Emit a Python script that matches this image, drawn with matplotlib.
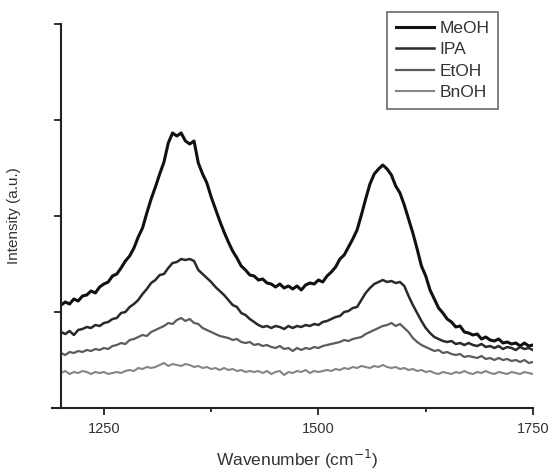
import numpy as np
import matplotlib
matplotlib.use("Agg")
import matplotlib.pyplot as plt
from matplotlib.ticker import MultipleLocator

plt.rcParams['font.family'] = ['Liberation Sans', 'DejaVu Sans']

# wavenumber grid, 1200..1750 cm-1 every 5
wavenumber = np.arange(1200, 1751, 5)

# intensities (a.u.)
meoh = [103, 106, 104, 109, 107, 112, 113, 117, 115, 121,
        124, 126, 132, 134, 140, 147, 152, 160, 171, 180,
        195, 209, 221, 234, 246, 265, 275, 272, 275, 267,
        264, 267, 245, 234, 225, 211, 199, 187, 176, 166,
        157, 150, 142, 138, 133, 132, 128, 129, 125, 124,
        121, 124, 120, 122, 119, 122, 118, 123, 125, 124,
        128, 126, 132, 136, 141, 149, 153, 161, 169, 178,
        193, 209, 224, 234, 239, 243, 239, 233, 222, 215,
        203, 189, 175, 159, 142, 132, 118, 109, 100, 95,
        89, 86, 81, 82, 76, 75, 73, 74, 69, 71,
        68, 67, 69, 65, 66, 64, 65, 62, 65, 62,
        63]
ipa = [76, 74, 77, 73, 78, 79, 81, 80, 83, 82,
       85, 86, 89, 90, 95, 96, 101, 104, 108, 114,
       119, 125, 128, 133, 134, 140, 145, 146, 149, 148,
       149, 147, 138, 134, 130, 126, 121, 117, 113, 108,
       103, 101, 95, 93, 89, 86, 83, 81, 82, 80,
       82, 81, 79, 82, 80, 82, 81, 83, 82, 84,
       83, 86, 87, 89, 91, 92, 96, 97, 100, 101,
       108, 115, 120, 124, 126, 128, 126, 127, 125, 126,
       122, 112, 103, 95, 87, 80, 75, 71, 69, 67,
       66, 67, 64, 65, 63, 65, 63, 62, 64, 61,
       62, 60, 62, 59, 61, 60, 58, 61, 59, 60,
       58]
etoh = [55, 53, 56, 55, 57, 56, 58, 57, 59, 58,
        60, 59, 62, 63, 65, 64, 68, 69, 71, 73,
        72, 76, 78, 80, 82, 85, 84, 88, 90, 87,
        89, 85, 84, 80, 78, 76, 74, 72, 71, 70,
        68, 69, 66, 65, 66, 63, 64, 62, 63, 61,
        60, 62, 59, 60, 57, 60, 58, 60, 59, 61,
        60, 62, 63, 64, 65, 66, 68, 67, 69, 70,
        71, 74, 76, 78, 80, 82, 83, 85, 82, 84,
        80, 76, 70, 66, 63, 61, 59, 57, 58, 55,
        56, 54, 53, 54, 51, 52, 51, 50, 52, 49,
        50, 48, 50, 48, 49, 47, 48, 46, 48, 45,
        46]
bnoh = [35, 37, 34, 36, 35, 37, 36, 34, 36, 35,
        36, 34, 35, 36, 35, 37, 38, 37, 40, 39,
        41, 40, 41, 43, 45, 42, 44, 43, 42, 44,
        43, 41, 42, 40, 41, 39, 40, 38, 40, 38,
        39, 37, 38, 36, 37, 36, 37, 35, 37, 34,
        36, 37, 33, 36, 35, 37, 36, 38, 35, 37,
        36, 37, 38, 37, 39, 38, 40, 39, 41, 40,
        42, 41, 40, 42, 41, 43, 41, 40, 41, 39,
        40, 38, 39, 37, 38, 36, 37, 35, 34, 36,
        35, 34, 36, 35, 37, 35, 34, 36, 35, 37,
        35, 34, 36, 35, 34, 36, 35, 34, 36, 35,
        34]

labels = ["MeOH", "IPA", "EtOH", "BnOH"]
series = [meoh, ipa, etoh, bnoh]
colors = ["#111111", "#2a2a2a", "#5c5c5c", "#858585"]
widths = [2.2, 1.8, 1.6, 1.5]

fig = plt.figure(figsize=(5.51, 4.73), dpi=100)
ax = fig.add_axes([61 / 551, 1 - 408 / 473, 472 / 551, 384 / 473])

for y, lab, c, lw in zip(series, labels, colors, widths):
    ax.plot(wavenumber, y, color=c, lw=lw, label=lab)

ax.set_xlim(1200, 1750)
ax.set_ylim(0, 384)
ax.set_xticks([1250, 1500, 1750])
ax.xaxis.set_minor_locator(MultipleLocator(125))
ax.set_yticks([96, 192, 288, 384])
ax.set_yticklabels([])

for side in ["top", "right"]:
    ax.spines[side].set_visible(False)
for side in ["left", "bottom"]:
    ax.spines[side].set_linewidth(1.5)
    ax.spines[side].set_color("#222222")
ax.spines["bottom"].set_bounds(1190, 1750)

ax.tick_params(axis="both", which="major", direction="out", length=5, width=1.3,
               color="#222222", labelsize=10.5, labelcolor="#333333", pad=5)
ax.tick_params(axis="x", which="minor", direction="out", length=3, width=1.3,
               color="#222222")

ax.set_xlabel("Wavenumber (cm$^{-1}$)", fontsize=12.5, color="#333333")
ax.set_ylabel("Intensity (a.u.)", fontsize=11, color="#333333")
ax.xaxis.set_label_coords(0.5, -0.105)
ax.yaxis.set_label_coords(-0.085, 0.5)

leg = ax.legend(loc="upper right", bbox_to_anchor=(498 / 551, 1 - 12 / 473),
                bbox_transform=fig.transFigure, borderaxespad=0, fontsize=12.5,
                frameon=True, fancybox=False, handlelength=2.2, handletextpad=0.3,
                labelspacing=0.36, borderpad=0.5)
leg.get_frame().set_edgecolor("#444444")
leg.get_frame().set_linewidth(1.2)
for t in leg.get_texts():
    t.set_color("#333333")

fig.savefig("out.png", dpi=100)
